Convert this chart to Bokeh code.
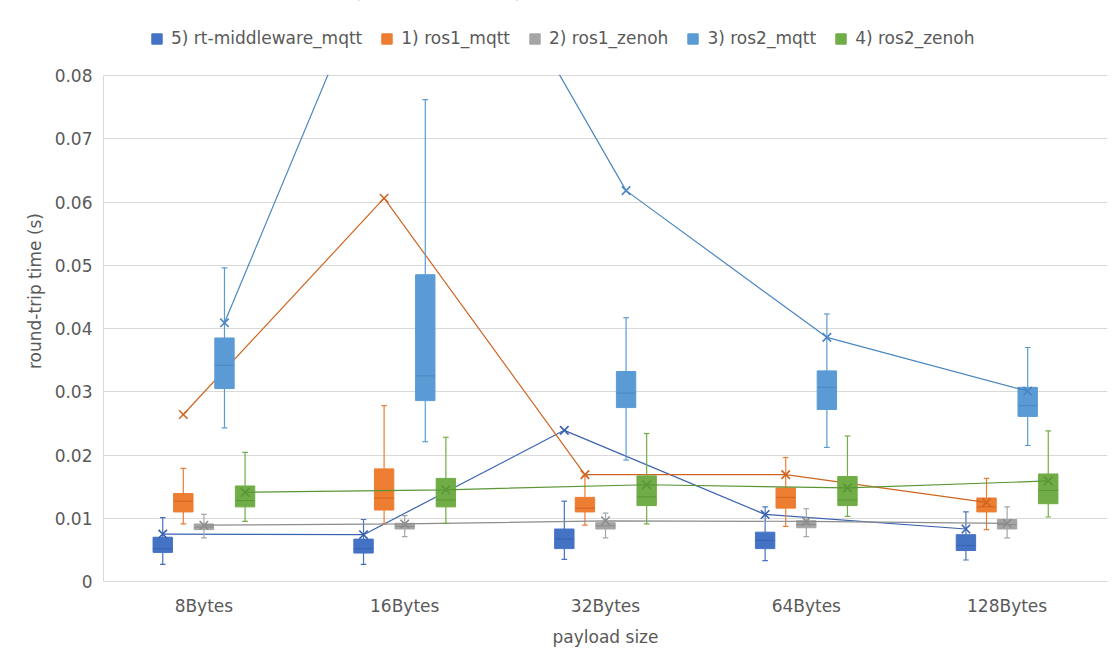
from bokeh.plotting import figure
from bokeh.models import (FactorRange, Range1d, FixedTicker, ColumnDataSource, Legend,
                          LegendItem, BoxAnnotation)
from bokeh.transform import dodge
from bokeh.embed import file_html
from bokeh.resources import INLINE

# ---------------- data ----------------
categories = ["8Bytes", "16Bytes", "32Bytes", "64Bytes", "128Bytes"]
series_names = ["5) rt-middleware_mqtt", "1) ros1_mqtt", "2) ros1_zenoh", "3) ros2_mqtt", "4) ros2_zenoh"]

rt_mw_min = [0.0027, 0.0027, 0.0035, 0.0033, 0.0034]
rt_mw_q1 = [0.0046, 0.0045, 0.0052, 0.0052, 0.0049]
rt_mw_med = [0.0052, 0.0052, 0.0067, 0.0065, 0.0057]
rt_mw_q3 = [0.0070, 0.0067, 0.0083, 0.0078, 0.0074]
rt_mw_max = [0.0101, 0.0098, 0.0127, 0.0118, 0.0110]
rt_mw_mean = [0.0075, 0.0074, 0.0239, 0.0106, 0.0083]

ros1_mqtt_min = [0.0091, 0.0091, 0.0089, 0.0087, 0.0082]
ros1_mqtt_q1 = [0.0110, 0.0113, 0.0110, 0.0116, 0.0110]
ros1_mqtt_med = [0.0127, 0.0132, 0.0116, 0.0133, 0.0118]
ros1_mqtt_q3 = [0.0139, 0.0178, 0.0133, 0.0148, 0.0132]
ros1_mqtt_max = [0.0179, 0.0278, 0.0167, 0.0196, 0.0163]
ros1_mqtt_mean = [0.0264, 0.0606, 0.0169, 0.0169, 0.0125]

ros1_zenoh_min = [0.0069, 0.0071, 0.0069, 0.0071, 0.0069]
ros1_zenoh_q1 = [0.0082, 0.0083, 0.0083, 0.0085, 0.0083]
ros1_zenoh_med = [0.0086, 0.0087, 0.0088, 0.0090, 0.0090]
ros1_zenoh_q3 = [0.0091, 0.0092, 0.0093, 0.0096, 0.0098]
ros1_zenoh_max = [0.0106, 0.0104, 0.0108, 0.0115, 0.0118]
ros1_zenoh_mean = [0.0089, 0.0091, 0.0096, 0.0095, 0.0092]

ros2_mqtt_min = [0.0243, 0.0221, 0.0192, 0.0212, 0.0215]
ros2_mqtt_q1 = [0.0305, 0.0286, 0.0275, 0.0272, 0.0261]
ros2_mqtt_med = [0.0342, 0.0325, 0.0298, 0.0307, 0.0278]
ros2_mqtt_q3 = [0.0385, 0.0485, 0.0332, 0.0333, 0.0307]
ros2_mqtt_max = [0.0496, 0.0762, 0.0417, 0.0423, 0.0370]
ros2_mqtt_mean = [0.0409, 0.1170, 0.0618, 0.0386, 0.0301]

ros2_zenoh_min = [0.0095, 0.0092, 0.0091, 0.0103, 0.0102]
ros2_zenoh_q1 = [0.0118, 0.0118, 0.0120, 0.0120, 0.0123]
ros2_zenoh_med = [0.0128, 0.0129, 0.0134, 0.0129, 0.0144]
ros2_zenoh_q3 = [0.0151, 0.0163, 0.0167, 0.0166, 0.0170]
ros2_zenoh_max = [0.0204, 0.0228, 0.0234, 0.0230, 0.0238]
ros2_zenoh_mean = [0.0141, 0.0145, 0.0153, 0.0148, 0.0159]

y_ticks = [0, 0.01, 0.02, 0.03, 0.04, 0.05, 0.06, 0.07, 0.08]
y_tick_labels = ["0", "0.01", "0.02", "0.03", "0.04", "0.05", "0.06", "0.07", "0.08"]
y_max = 0.08

# ---------------- styling ----------------
FONT = "DejaVu Sans"
TEXT = "#595959"
GRID = "#D9D9D9"
fills = ["#4472C4", "#ED7D31", "#A5A5A5", "#5B9BD5", "#70AD47"]
darks = ["#3A62B0", "#CF6520", "#8C8C8C", "#4A86C0", "#5A9636"]
offsets = [-0.205, -0.1025, 0.0, 0.1025, 0.205]
box_w = 0.0965
cap_half = 0.014

# layout (pixels)
H = 655
PLOT_TOP = 75      # pixel row of y_max
PLOT_BOTTOM = 581  # pixel row of 0
# the frame reaches the top edge so the legend can sit inside it; the area above y_max is masked
y_top = y_max * PLOT_BOTTOM / (PLOT_BOTTOM - PLOT_TOP)

stats = [
    (rt_mw_min, rt_mw_q1, rt_mw_med, rt_mw_q3, rt_mw_max, rt_mw_mean),
    (ros1_mqtt_min, ros1_mqtt_q1, ros1_mqtt_med, ros1_mqtt_q3, ros1_mqtt_max, ros1_mqtt_mean),
    (ros1_zenoh_min, ros1_zenoh_q1, ros1_zenoh_med, ros1_zenoh_q3, ros1_zenoh_max, ros1_zenoh_mean),
    (ros2_mqtt_min, ros2_mqtt_q1, ros2_mqtt_med, ros2_mqtt_q3, ros2_mqtt_max, ros2_mqtt_mean),
    (ros2_zenoh_min, ros2_zenoh_q1, ros2_zenoh_med, ros2_zenoh_q3, ros2_zenoh_max, ros2_zenoh_mean),
]

p = figure(
    x_range=FactorRange(*categories, range_padding=0),
    y_range=Range1d(0, y_top),
    width=1110, height=H,
    output_backend="svg", toolbar_location=None,
    min_border_left=103, min_border_right=3, min_border_top=0, min_border_bottom=H - PLOT_BOTTOM,
)
p.outline_line_color = None
p.background_fill_color = "white"
p.border_fill_color = "white"

legend_items = []
for i, (mn, q1, md, q3, mx, me) in enumerate(stats):
    src = ColumnDataSource(dict(cat=categories, mn=mn, q1=q1, md=md, q3=q3, mx=mx, me=me))
    off = offsets[i]
    xc = dodge("cat", off, range=p.x_range)
    # whiskers
    p.segment(x0=xc, y0="mn", x1=xc, y1="q1", source=src, line_color=fills[i], line_width=1.2)
    p.segment(x0=xc, y0="q3", x1=xc, y1="mx", source=src, line_color=fills[i], line_width=1.2)
    # caps
    xl = dodge("cat", off - cap_half, range=p.x_range)
    xr = dodge("cat", off + cap_half, range=p.x_range)
    p.segment(x0=xl, y0="mn", x1=xr, y1="mn", source=src, line_color=fills[i], line_width=1.2)
    p.segment(x0=xl, y0="mx", x1=xr, y1="mx", source=src, line_color=fills[i], line_width=1.2)
    # box
    box = p.vbar(x=xc, width=box_w, top="q3", bottom="q1", source=src,
                 fill_color=fills[i], line_color=fills[i], line_width=1)
    # median
    bl = dodge("cat", off - box_w / 2, range=p.x_range)
    br = dodge("cat", off + box_w / 2, range=p.x_range)
    p.segment(x0=bl, y0="md", x1=br, y1="md", source=src, line_color=darks[i], line_width=1)
    # mean line + marker
    p.line(x=xc, y="me", source=src, line_color=darks[i], line_width=1.2)
    p.scatter(x=xc, y="me", source=src, marker="x", size=12, line_color=darks[i], line_width=1.6)
    legend_items.append(LegendItem(label=series_names[i], renderers=[box]))

# mask everything above the axis maximum
mask = BoxAnnotation(bottom=y_max + 0.0001, fill_color="white", fill_alpha=1.0,
                     line_color=None, line_alpha=0)
p.add_layout(mask)

legend = Legend(items=legend_items, orientation="horizontal", location=(47, PLOT_BOTTOM - 48),
                glyph_width=13, glyph_height=13, label_standoff=8, spacing=18,
                padding=0, margin=0, border_line_color=None, background_fill_alpha=0,
                label_text_font=FONT, label_text_font_size="17px", label_text_color=TEXT)
p.add_layout(legend, "center")

# axes
p.yaxis.ticker = FixedTicker(ticks=y_ticks)
p.yaxis.major_label_overrides = {t: l for t, l in zip(y_ticks, y_tick_labels)}
p.yaxis.bounds = (0, y_max)
p.yaxis.axis_label = "round-trip time (s)"
p.xaxis.axis_label = "payload size"
for ax in (p.xaxis, p.yaxis):
    ax.axis_line_color = GRID
    ax.major_tick_line_color = None
    ax.minor_tick_line_color = None
    ax.major_label_text_font = FONT
    ax.major_label_text_font_size = "17px"
    ax.major_label_text_color = TEXT
    ax.axis_label_text_font = FONT
    ax.axis_label_text_font_size = "17px"
    ax.axis_label_text_font_style = "normal"
    ax.axis_label_text_color = TEXT
p.yaxis.major_label_standoff = 5
p.yaxis.axis_label_standoff = 7
p.xaxis.major_label_standoff = 8
p.xaxis.axis_label_standoff = 8

p.xgrid.grid_line_color = None
p.ygrid.grid_line_color = GRID
p.ygrid.grid_line_width = 1

open("out.html", "w").write(file_html(p, INLINE))
